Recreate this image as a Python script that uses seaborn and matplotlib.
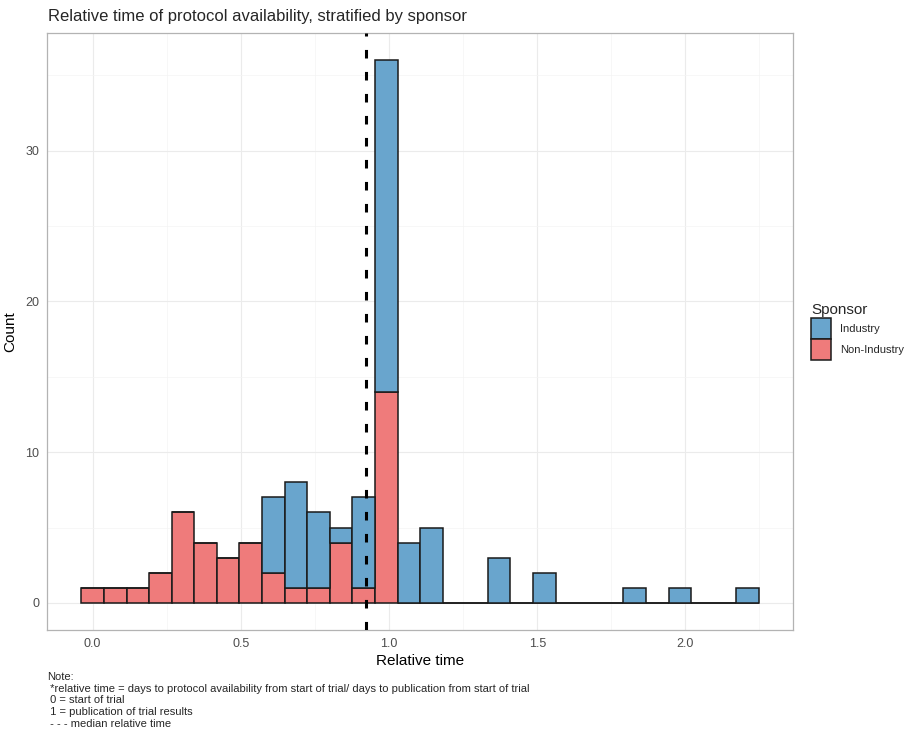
import numpy as np
import pandas as pd
import matplotlib
matplotlib.use("Agg")
import matplotlib.pyplot as plt
import seaborn as sns
from matplotlib.patches import Patch
from matplotlib.ticker import MultipleLocator

# ==================================================
# DATA (30 bins)
# ==================================================

bin_width = 0.0762
bin_centers = [0.0, 0.0762, 0.1524, 0.2286, 0.3048, 0.381, 0.4572, 0.5334,
               0.6096, 0.6858, 0.762, 0.8382, 0.9144, 0.9906, 1.0668, 1.143,
               1.2192, 1.2954, 1.3716, 1.4478, 1.524, 1.6002, 1.6764, 1.7526,
               1.8288, 1.905, 1.9812, 2.0574, 2.1336, 2.2098]
industry_counts = [0, 0, 0, 0, 0, 0, 0, 0, 5, 7, 5, 1, 6, 22, 4, 5,
                   0, 0, 3, 0, 2, 0, 0, 0, 1, 0, 1, 0, 0, 1]
non_industry_counts = [1, 1, 1, 2, 6, 4, 3, 4, 2, 1, 1, 4, 1, 14, 0, 0,
                       0, 0, 0, 0, 0, 0, 0, 0, 0, 0, 0, 0, 0, 0]
sponsors = ["Industry", "Non-Industry"]
median_time = 0.924

colors = {"Industry": "#69A5CD", "Non-Industry": "#EF7B7B"}

df = pd.DataFrame({
    "time": bin_centers * 2,
    "count": industry_counts + non_industry_counts,
    "sponsor": ["Industry"] * len(bin_centers) + ["Non-Industry"] * len(bin_centers),
})

# ==================================================
# PLOT
# ==================================================

sns.set_style("white")
plt.rcParams["font.family"] = ["Liberation Sans", "DejaVu Sans"]

fig = plt.figure(figsize=(9.06, 7.31), dpi=100)
ax = fig.add_axes([0.0524, 0.138, 0.8226, 0.817])

lo = bin_centers[0] - bin_width / 2
hi = bin_centers[-1] + bin_width / 2

sns.histplot(
    data=df, x="time", weights="count", hue="sponsor",
    hue_order=sponsors, palette=colors, multiple="stack",
    binwidth=bin_width, binrange=(lo, hi),
    edgecolor="#1a1a1a", linewidth=1.1, alpha=1, legend=False, ax=ax,
)

ax.axvline(median_time, color="black", linewidth=2.2,
           linestyle=(0, (2.8, 4.4)), zorder=5)

span = hi - lo
ax.set_xlim(lo - 0.05 * span, hi + 0.05 * span)
ax.set_ylim(-1.8, 37.8)

ax.xaxis.set_major_locator(MultipleLocator(0.5))
ax.xaxis.set_minor_locator(MultipleLocator(0.25))
ax.yaxis.set_major_locator(MultipleLocator(10))
ax.yaxis.set_minor_locator(MultipleLocator(5))
ax.xaxis.set_major_formatter(plt.FuncFormatter(lambda v, p: f"{v:.1f}"))

ax.grid(True, which="major", color="#EBEBEB", linewidth=0.8)
ax.grid(True, which="minor", color="#F4F4F4", linewidth=0.5)
ax.set_axisbelow(True)
for s in ax.spines.values():
    s.set_color("#B3B3B3")
    s.set_linewidth(0.9)

ax.tick_params(axis="both", which="major", length=3.2, width=0.7, color="#B3B3B3",
               labelsize=9, labelcolor="#4D4D4D", pad=2.5)
ax.tick_params(axis="both", which="minor", length=0)

ax.set_xlabel("Relative time", fontsize=11, color="black", labelpad=3)
ax.set_ylabel("Count", fontsize=11, color="black")
ax.yaxis.set_label_coords(-0.04, 0.5)
fig.text(0.053, 0.977, "Relative time of protocol availability, stratified by sponsor",
         fontsize=12.0, ha="left", va="center")

handles = [Patch(facecolor=colors[s], edgecolor="#1a1a1a", linewidth=1.1, label=s)
           for s in sponsors]
leg = fig.legend(handles=handles, title="Sponsor", loc="upper left",
                 bbox_to_anchor=(0.895, 0.585), frameon=False,
                 fontsize=8.0, title_fontsize=11, handlelength=1.8,
                 handleheight=2.5, handletextpad=0.8, labelspacing=0.05,
                 borderpad=0, borderaxespad=0)
leg._legend_box.align = "left"

note = ("Note:\n *relative time = days to protocol availability from start of trial/ "
        "days to publication from start of trial\n 0 = start of trial\n"
        " 1 = publication of trial results\n - - - median relative time")
fig.text(0.052, 0.081, note, fontsize=8, ha="left", va="top", linespacing=1.22)

plt.savefig("out.png", dpi=100)
